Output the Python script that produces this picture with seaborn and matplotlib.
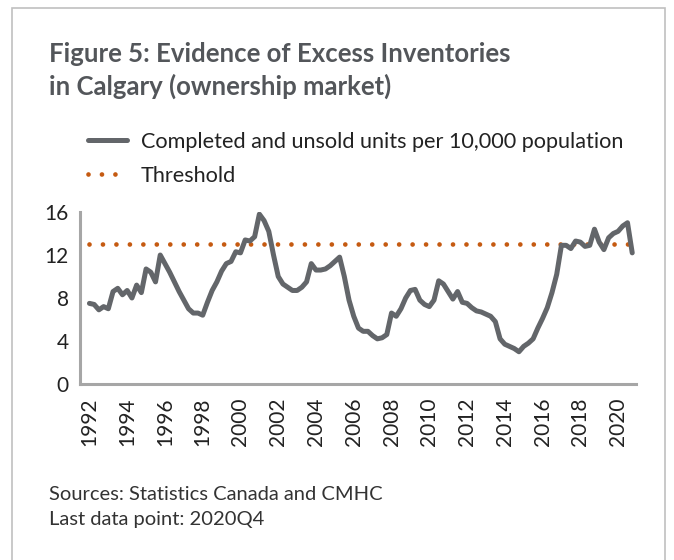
import numpy as np
import pandas as pd
import seaborn as sns
import matplotlib.pyplot as plt
from matplotlib.lines import Line2D
from matplotlib.patches import Rectangle

# Completed and unsold units per 10,000 population, quarterly 1992Q1 - 2020Q4
unsold = [
    7.5, 7.4, 6.9, 7.2, 7.0, 8.6, 8.9, 8.3,        # 1992-1993
    8.7, 8.0, 9.2, 8.5, 10.7, 10.4, 9.5, 12.0,     # 1994-1995
    11.2, 10.4, 9.5, 8.6, 7.8, 7.0, 6.6, 6.6,      # 1996-1997
    6.4, 7.6, 8.7, 9.5, 10.5, 11.2, 11.4, 12.3,    # 1998-1999
    12.2, 13.4, 13.3, 13.7, 15.8, 15.2, 14.2, 12.0,  # 2000-2001
    10.0, 9.3, 9.0, 8.7, 8.7, 9.0, 9.5, 11.2,      # 2002-2003
    10.6, 10.6, 10.7, 11.0, 11.4, 11.8, 10.0, 7.8,  # 2004-2005
    6.3, 5.2, 4.9, 4.9, 4.5, 4.2, 4.3, 4.6,        # 2006-2007
    6.6, 6.3, 7.0, 8.0, 8.7, 8.8, 7.8, 7.4,        # 2008-2009
    7.2, 7.8, 9.6, 9.3, 8.6, 7.9, 8.6, 7.6,        # 2010-2011
    7.5, 7.1, 6.8, 6.7, 6.5, 6.3, 5.8, 4.2,        # 2012-2013
    3.7, 3.5, 3.3, 3.0, 3.5, 3.8, 4.2, 5.2,        # 2014-2015
    6.1, 7.1, 8.5, 10.2, 12.9, 12.9, 12.6, 13.3,   # 2016-2017
    13.2, 12.8, 12.9, 14.4, 13.2, 12.5, 13.6, 14.0,  # 2018-2019
    14.2, 14.7, 15.0, 12.2,                        # 2020
]
threshold = 13
start_year = 1992
tick_years = list(range(1992, 2021, 2))
y_ticks = [0, 4, 8, 12, 16]

df = pd.DataFrame({
    "year": start_year + np.arange(len(unsold)) / 4,
    "unsold": unsold,
})
df["threshold"] = threshold

gray = "#63666a"
orange = "#c55a11"
dots = (0, (0.001, 2.85))

sns.set_style("white")
plt.rcParams["font.family"] = ["Lato", "DejaVu Sans"]

fig = plt.figure(figsize=(6.74, 5.6), dpi=100)
ax = fig.add_axes([80 / 674, 1 - 384 / 560, (636 - 80) / 674, (384 - 212) / 560])

# dotted threshold drawn with plain plot so the dash pattern is kept
ax.plot(df["year"], df["threshold"], color=orange, lw=3.4,
        linestyle=dots, dash_capstyle="round")
sns.lineplot(data=df, x="year", y="unsold", ax=ax, color=gray, lw=3.6,
             solid_capstyle="round", solid_joinstyle="round")

ax.set_xlim(1991.5, 2020.95)
ax.set_ylim(0, 16)
ax.set_xticks(tick_years)
ax.set_xticklabels([str(y) for y in tick_years], rotation=90, fontsize=15, color="#222222")
ax.set_yticks(y_ticks)
ax.set_yticklabels([str(v) for v in y_ticks], fontsize=15, color="#222222")
ax.tick_params(axis="y", length=0, pad=8)
ax.tick_params(axis="x", length=0, pad=10)
ax.set_xlabel("")
ax.set_ylabel("")
sns.despine(ax=ax)
for side in ["left", "bottom"]:
    ax.spines[side].set_color("#a6a6a6")
    ax.spines[side].set_linewidth(2.2)

handles = [
    Line2D([], [], color=gray, lw=3.6, solid_capstyle="round"),
    Line2D([], [], color=orange, lw=3.4, linestyle=dots, dash_capstyle="round"),
]
fig.legend(handles, ["Completed and unsold units per 10,000 population", "Threshold"],
           loc="upper left", bbox_to_anchor=(88 / 674, 1 - 132 / 560), frameon=False,
           fontsize=15.6, handlelength=1.8, handletextpad=0.65, labelspacing=0.63,
           borderpad=0, borderaxespad=0, labelcolor="#222222")

title_color = "#53565a"
fig.text(49 / 674, 1 - 62.5 / 560, "Figure 5: Evidence of Excess Inventories",
         fontsize=18.5, fontweight="bold", color=title_color, va="baseline")
fig.text(49 / 674, 1 - 94.5 / 560, "in Calgary (ownership market)",
         fontsize=18.5, fontweight="bold", color=title_color, va="baseline")

fig.text(49 / 674, 1 - 500 / 560, "Sources: Statistics Canada and CMHC",
         fontsize=14.5, color="#333333", va="baseline")
fig.text(49 / 674, 1 - 525 / 560, "Last data point: 2020Q4",
         fontsize=14.5, color="#333333", va="baseline")

fig.patches.append(Rectangle((12 / 674, -0.02), (665 - 12) / 674, 1 - 8 / 560 + 0.02,
                             transform=fig.transFigure, fill=False,
                             edgecolor="#c0c0c0", lw=1.2))

fig.savefig("out.png", dpi=100)
